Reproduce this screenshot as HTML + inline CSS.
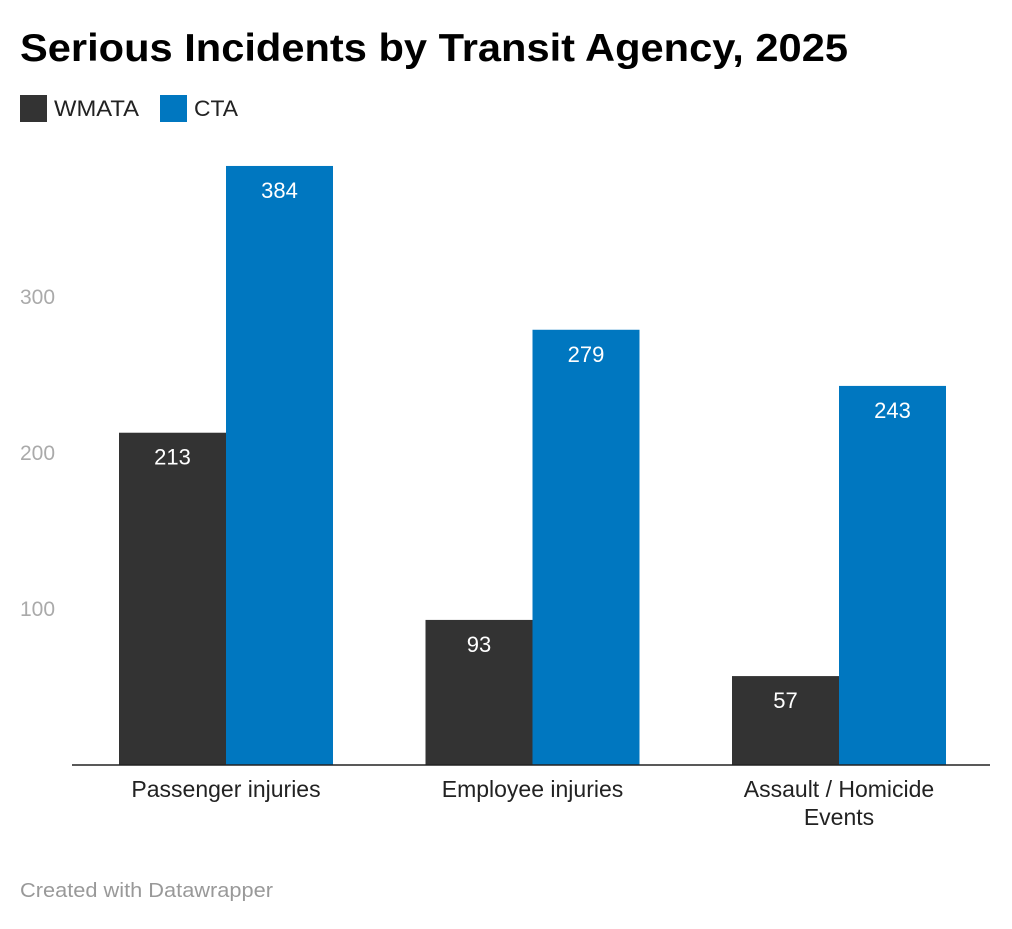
<!DOCTYPE html>
<html><head><meta charset="utf-8"><style>
body{margin:0;background:#fff;font-family:"Liberation Sans",Arial,sans-serif;}
svg text{font-family:"Liberation Sans",Arial,sans-serif;}
</style></head><body>
<svg id="chart" width="1012" height="924" xmlns="http://www.w3.org/2000/svg">
<rect width="1012" height="924" fill="#fff"/>
<text x="20" y="61" font-size="39" font-weight="bold" fill="#000" textLength="828" lengthAdjust="spacingAndGlyphs">Serious Incidents by Transit Agency, 2025</text>
<g>
<rect x="20" y="95" width="27" height="27" fill="#333"/>
<text x="54" y="116" font-size="22" fill="#222" textLength="85" lengthAdjust="spacingAndGlyphs">WMATA</text>
<rect x="160" y="95" width="27" height="27" fill="#0077c0"/>
<text x="194" y="116" font-size="22" fill="#222" textLength="44" lengthAdjust="spacingAndGlyphs">CTA</text>
</g>
<g id="plot"></g>
<text x="20" y="897" font-size="20" fill="#999" textLength="253" lengthAdjust="spacingAndGlyphs">Created with Datawrapper</text>
</svg>
<script>
const categories=["Passenger injuries","Employee injuries","Assault / Homicide|Events"];
const wmata=[213,93,57];
const cta=[384,279,243];
const ticks=[100,200,300];
const NS="http://www.w3.org/2000/svg";
const g=document.getElementById('plot');
const y0=765, pxPer=1.56;
function y(v){return y0-v*pxPer;}
function x(i){return 119+i*306.5;}
const bw=107;
function mk(tag,attrs){const e=document.createElementNS(NS,tag);for(const k in attrs)e.setAttribute(k,attrs[k]);g.appendChild(e);return e;}
ticks.forEach(t=>{
 const e=mk('text',{x:20,y:y(t)+7,'font-size':21,fill:'#aaa'});
 e.textContent=t;
 
 
});
function bar(i,v,off,color,name){
 const r=mk('rect',{x:x(i)+off,y:y(v),width:bw,height:y0-y(v),fill:color});
 
 
 const t=mk('text',{x:x(i)+off+bw/2,y:y(v)+32,'font-size':22,fill:'#fff','text-anchor':'middle'});
 t.textContent=v;
 
 
}
categories.forEach((c,i)=>{
 bar(i,wmata[i],0,'#333','bar-wmata');
 bar(i,cta[i],bw,'#0077c0','bar-cta');
 c.split('|').forEach((line,j)=>{
  const t=mk('text',{x:x(i)+bw,y:797+j*28,'font-size':23,fill:'#222','text-anchor':'middle'});
  t.textContent=line;
  
  
 });
});
const ax=mk('line',{x1:72,x2:990,y1:y0,y2:y0,stroke:'#222','stroke-width':1.5});


</script>
</body></html>
